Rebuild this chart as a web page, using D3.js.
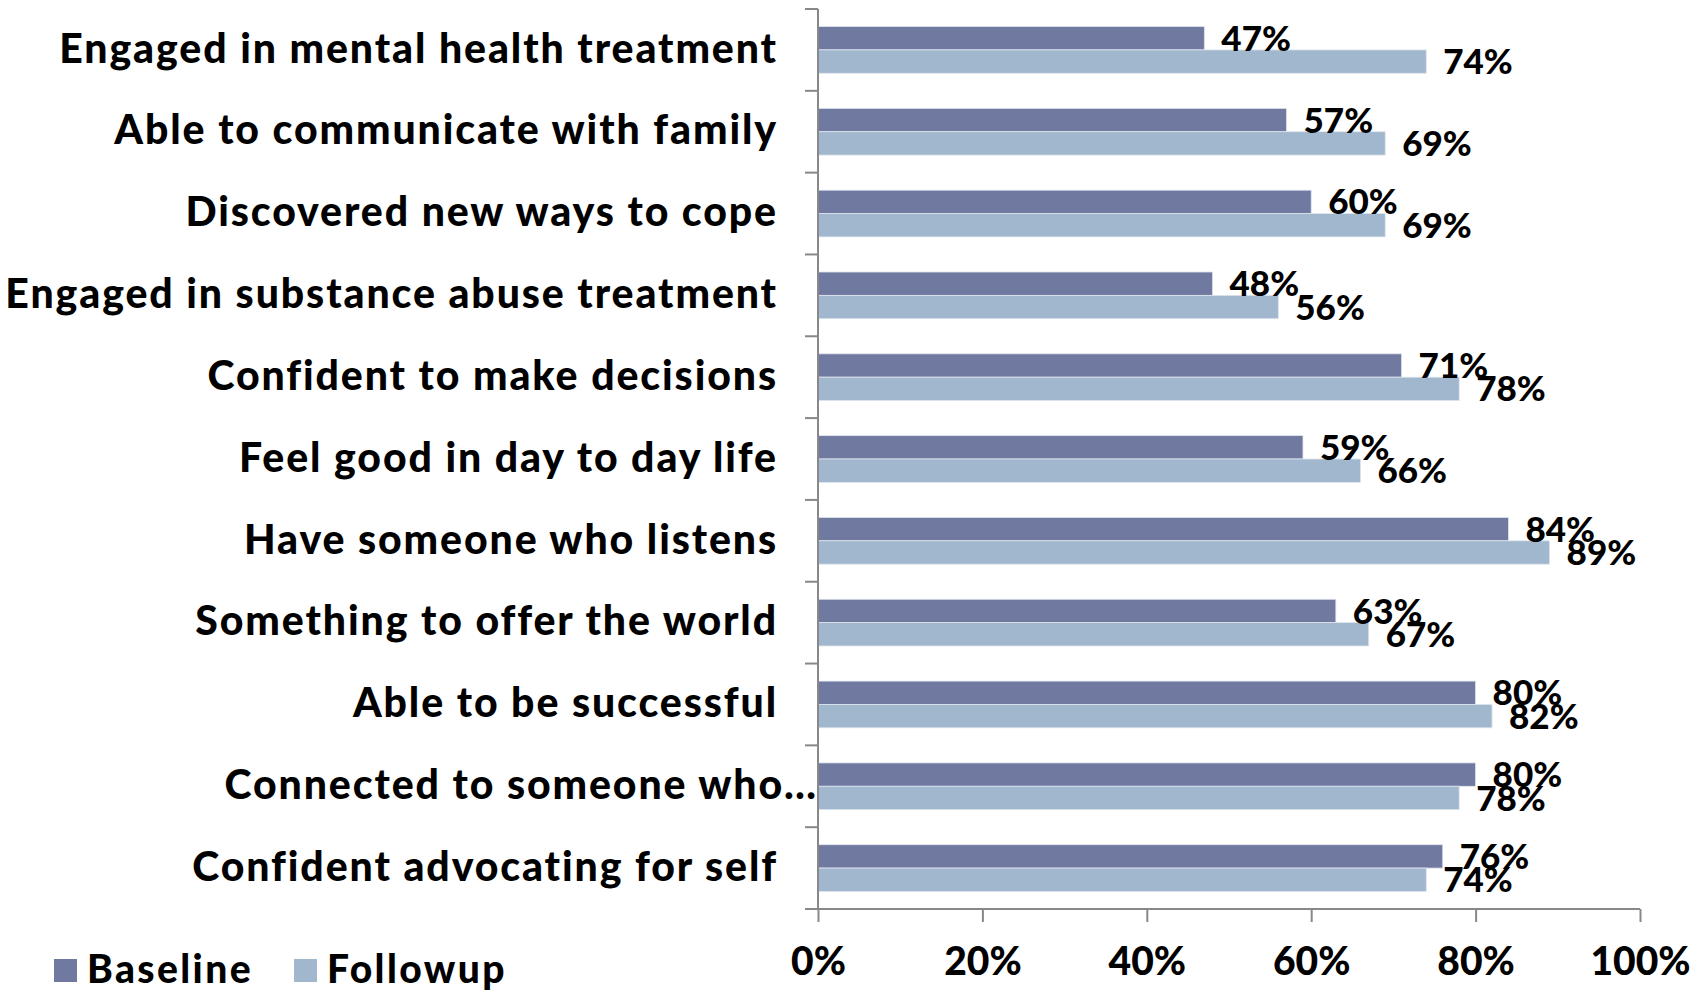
<!DOCTYPE html>
<html>
<head>
<meta charset="utf-8">
<script src="https://cdn.jsdelivr.net/npm/d3@7"></script>
<style>
  html, body { margin: 0; padding: 0; background: #fff; }
  svg { display: block; }
  text { font-family: Lato, "Open Sans", sans-serif; font-weight: 900; fill: #000; }
</style>
</head>
<body>
<svg id="chart" width="1707" height="993"></svg>
<script>
// Survey items, top to bottom
const categories = [
  "Engaged in mental health treatment",
  "Able to communicate with family",
  "Discovered new ways to cope",
  "Engaged in substance abuse treatment",
  "Confident to make decisions",
  "Feel good in day to day life",
  "Have someone who listens",
  "Something to offer the world",
  "Able to be successful",
  "Connected to someone who\u2026",
  "Confident advocating for self"
];
const seriesNames = ["Baseline", "Followup"];
const baseline = [47, 57, 60, 48, 71, 59, 84, 63, 80, 80, 76];
const followup = [74, 69, 69, 56, 78, 66, 89, 67, 82, 78, 74];
const xTicks = [0, 20, 40, 60, 80, 100];

const colors = { Baseline: "#7079a0", Followup: "#a1b7ce" };
const axisColor = "#888888";

const svg = d3.select("#chart");

const plot = { left: 818, right: 1640, top: 9, bottom: 909 };

const x = d3.scaleLinear().domain([0, 100]).range([plot.left, plot.right]);
const y = d3.scaleBand().domain(categories)
  .range([plot.top, plot.bottom])
  .paddingInner(0.429).paddingOuter(0.2145);
const ySeries = d3.scaleBand().domain(seriesNames).range([0, y.bandwidth()]);

const rows = categories.map((c, i) => ({ cat: c, Baseline: baseline[i], Followup: followup[i] }));

// Bars
const groups = svg.append("g").selectAll("g")
  .data(rows).join("g")
  .attr("transform", d => `translate(0,${y(d.cat)})`);

groups.selectAll("rect")
  .data(d => seriesNames.map(s => ({ s, v: d[s] })))
  .join("rect")
  .attr("x", x(0))
  .attr("y", d => ySeries(d.s))
  .attr("width", d => x(d.v) - x(0))
  .attr("height", ySeries.bandwidth())
  .attr("fill", d => colors[d.s])
  .attr("stroke", "#dfe4ee")
  .attr("stroke-width", 0.8);

// Value labels at the end of each bar
groups.selectAll("text.val")
  .data(d => seriesNames.map(s => ({ s, v: d[s] })))
  .join("text")
  .attr("class", "val")
  .attr("x", d => x(d.v) + 17)
  .attr("y", d => ySeries(d.s) + ySeries.bandwidth() / 2)
  .attr("dy", "0.36em")
  .attr("font-size", 35)
  .text(d => d.v + "%");

// Category axis: vertical line with ticks between categories
const catAxis = svg.append("g").attr("stroke", axisColor).attr("stroke-width", 2);
catAxis.append("line")
  .attr("x1", plot.left).attr("x2", plot.left)
  .attr("y1", plot.top).attr("y2", plot.bottom);
const boundaries = d3.range(categories.length + 1).map(i => plot.top + i * y.step());
catAxis.selectAll("line.tk").data(boundaries).join("line")
  .attr("class", "tk")
  .attr("x1", plot.left - 13).attr("x2", plot.left)
  .attr("y1", d => d).attr("y2", d => d);

// Category labels
svg.append("g").selectAll("text")
  .data(categories).join("text")
  .attr("x", d => d.endsWith("\u2026") ? plot.left : 778)
  .attr("y", d => y(d) + y.bandwidth() / 2 - 2)
  .attr("dy", "0.36em")
  .attr("text-anchor", "end")
  .attr("font-size", 41)
  .attr("letter-spacing", 1.9)
  .text(d => d);

// Value axis along the bottom
const xAxis = d3.axisBottom(x)
  .tickValues(xTicks)
  .tickFormat(d => d + "%")
  .tickSize(13)
  .tickPadding(25);
const xg = svg.append("g")
  .attr("transform", `translate(0,${plot.bottom})`)
  .call(xAxis);
xg.select(".domain").attr("stroke", axisColor).attr("stroke-width", 2)
  .attr("d", `M${plot.left - 13},0H${plot.right}`);
xg.selectAll(".tick line").attr("stroke", axisColor).attr("stroke-width", 2);
xg.selectAll(".tick text")
  .attr("font-size", 39)
  .attr("font-family", "Lato, sans-serif")
  .attr("font-weight", 900)
  .attr("fill", "#000");

// Legend
const legend = svg.append("g").attr("transform", "translate(54,959)");
const legendItems = legend.selectAll("g").data(seriesNames).join("g")
  .attr("transform", (d, i) => `translate(${i * 240},0)`);
legendItems.append("rect")
  .attr("width", 23).attr("height", 23)
  .attr("fill", d => colors[d]);
legendItems.append("text")
  .attr("x", 33).attr("y", 24)
  .attr("font-size", 39)
  .attr("letter-spacing", 2.4)
  .text(d => d);
</script>
</body>
</html>
